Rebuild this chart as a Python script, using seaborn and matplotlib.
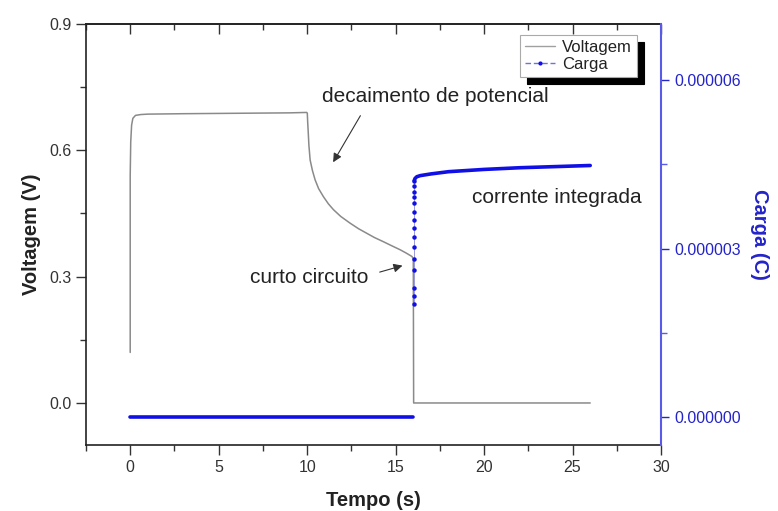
"""
Voltagem e carga em funcao do tempo (descarga de capacitor / curto circuito).
"""

import matplotlib
matplotlib.use("Agg")
import matplotlib.pyplot as plt
import seaborn as sns
from matplotlib.lines import Line2D
from matplotlib.ticker import MultipleLocator, FormatStrFormatter

# Voltagem (V)
tempo_v = [0.0, 0.0, 0.03, 0.08, 0.15, 0.3, 0.6, 1.0, 3.0, 6.0, 9.0, 9.98,
           10.01, 10.03, 10.06, 10.1, 10.17, 10.3, 10.45, 10.65, 10.92,
           11.2, 11.49, 11.9, 12.43, 12.9, 13.37, 13.8, 14.31, 14.8, 15.25,
           15.6, 15.92, 16.0, 16.02, 26.0]
voltagem = [0.12, 0.54, 0.62, 0.66, 0.676, 0.683, 0.685, 0.686, 0.687,
            0.688, 0.689, 0.690, 0.688, 0.668, 0.645, 0.612, 0.577, 0.552,
            0.530, 0.509, 0.490, 0.473, 0.459, 0.443, 0.427, 0.414, 0.403,
            0.393, 0.383, 0.373, 0.364, 0.356, 0.348, 0.343, 0.0, 0.0]

# Carga (C): patamar zero, subida pontilhada em t ~ 16 s, e curva final
tempo_base = [0.0, 16.0]
carga_base = [0.0, 0.0]

tempo_subida = [16.05] * 15
carga_subida = [2.01e-6, 2.16e-6, 2.29e-6, 2.62e-6, 2.82e-6, 3.02e-6,
                3.21e-6, 3.36e-6, 3.51e-6, 3.66e-6, 3.81e-6, 3.91e-6,
                4.00e-6, 4.11e-6, 4.21e-6]

tempo_topo = [16.05, 16.1, 16.2, 16.4, 17.0, 18.0, 20.0, 22.0, 24.0, 26.0]
carga_topo = [4.21e-6, 4.25e-6, 4.28e-6, 4.30e-6, 4.33e-6, 4.37e-6,
              4.41e-6, 4.44e-6, 4.46e-6, 4.48e-6]

GRAY = "#8a8a8a"
BLUE = "#1010e6"
BLUE_TXT = "#2424c8"
TXT = "#222222"

sns.set_theme(style="ticks")
plt.rcParams["font.family"] = ["Liberation Sans", "DejaVu Sans"]

fig = plt.figure(figsize=(7.78, 5.11), dpi=100)
ax = fig.add_axes([0.1105, 0.129, 0.7391, 0.824])
ax2 = ax.twinx()

sns.lineplot(x=tempo_v, y=voltagem, ax=ax, color=GRAY, lw=1.1,
             estimator=None, sort=False)

sns.lineplot(x=tempo_base, y=carga_base, ax=ax2, color=BLUE, lw=2.6,
             estimator=None, sort=False)
sns.lineplot(x=tempo_subida, y=carga_subida, ax=ax2, color="#9a9ad8", lw=0.7,
             marker="o", markersize=3.2, markerfacecolor=BLUE,
             markeredgewidth=0, estimator=None, sort=False)
sns.lineplot(x=tempo_topo, y=carga_topo, ax=ax2, color=BLUE, lw=2.6,
             estimator=None, sort=False)

# eixos
ax.set_xlim(-2.5, 30)
ax.set_ylim(-0.1, 0.9)
ax2.set_ylim(-0.5e-6, 7e-6)

ax.xaxis.set_major_locator(MultipleLocator(5))
ax.xaxis.set_minor_locator(MultipleLocator(2.5))
ax.yaxis.set_major_locator(MultipleLocator(0.3))
ax.yaxis.set_minor_locator(MultipleLocator(0.15))
ax.yaxis.set_major_formatter(FormatStrFormatter("%.1f"))
ax2.yaxis.set_major_locator(MultipleLocator(3e-6))
ax2.yaxis.set_minor_locator(MultipleLocator(1.5e-6))
ax2.yaxis.set_major_formatter(FormatStrFormatter("%.6f"))

ax.tick_params(axis="both", which="major", direction="out", length=7,
               width=1, labelsize=11.5, colors="#333333")
ax.tick_params(axis="both", which="minor", direction="out", length=4,
               width=1, colors="#333333")
ax2.tick_params(axis="y", which="major", direction="out", length=6,
                width=1, labelsize=11.5, colors=BLUE_TXT)
ax2.tick_params(axis="y", which="minor", direction="out", length=4,
                width=1, colors="#5a5ae8")

top = ax.secondary_xaxis("top")
top.xaxis.set_major_locator(MultipleLocator(5))
top.xaxis.set_minor_locator(MultipleLocator(2.5))
top.tick_params(which="major", direction="in", length=7, width=1,
                labeltop=False, colors="#333333")
top.tick_params(which="minor", direction="in", length=4, width=1,
                colors="#333333")
top.spines["top"].set_linewidth(1.2)

for side in ["left", "bottom", "top"]:
    ax.spines[side].set_color("#222222")
    ax.spines[side].set_linewidth(1.2)
    ax2.spines[side].set_visible(False)
ax.spines["right"].set_visible(False)
ax2.spines["right"].set_visible(True)
ax2.spines["right"].set_color("#5a5ae8")
ax2.spines["right"].set_linewidth(1.5)

ax.set_xlabel("Tempo (s)", fontsize=14.5, fontweight="bold", color=TXT,
              labelpad=12)
ax.set_ylabel("Voltagem (V)", fontsize=14.5, fontweight="bold", color=TXT,
              labelpad=6)
ax2.set_ylabel("Carga (C)", fontsize=14.5, fontweight="bold",
               color=BLUE_TXT, rotation=270, labelpad=20)

# anotacoes
ax.text(10.85, 0.727, "decaimento de potencial", fontsize=15, color=TXT,
        va="center", ha="left")
ax.annotate("", xy=(11.39, 0.566), xytext=(13.09, 0.688),
            arrowprops=dict(arrowstyle="-|>", color="#333333", lw=0.8,
                            mutation_scale=13))
ax.text(6.78, 0.297, "curto circuito", fontsize=15, color=TXT,
        va="center", ha="left")
ax.annotate("", xy=(15.54, 0.328), xytext=(13.95, 0.309),
            arrowprops=dict(arrowstyle="-|>", color="#333333", lw=0.8,
                            mutation_scale=13))
ax.text(19.3, 0.489, "corrente integrada", fontsize=15, color=TXT,
        va="center", ha="left")

handles = [
    Line2D([], [], color="#a0a0a0", lw=1.0),
    Line2D([], [], color="#7070e0", lw=1.0, ls=(0, (4, 2)), marker="o",
           markersize=3, markerfacecolor=BLUE, markeredgewidth=0),
]
leg = ax2.legend(handles, ["Voltagem", "Carga"], loc="upper right",
                 bbox_to_anchor=(0.958, 0.974), borderaxespad=0,
                 fontsize=12, handlelength=1.8, handletextpad=0.4,
                 borderpad=0.3, labelspacing=0.1, fancybox=False,
                 framealpha=1, edgecolor="#aaaaaa",
                 shadow={"ox": 5, "oy": -5, "facecolor": "black",
                         "edgecolor": "black", "alpha": 1})
leg.get_frame().set_linewidth(0.8)
for t in leg.get_texts():
    t.set_color(TXT)

fig.savefig("out.png", dpi=100)
